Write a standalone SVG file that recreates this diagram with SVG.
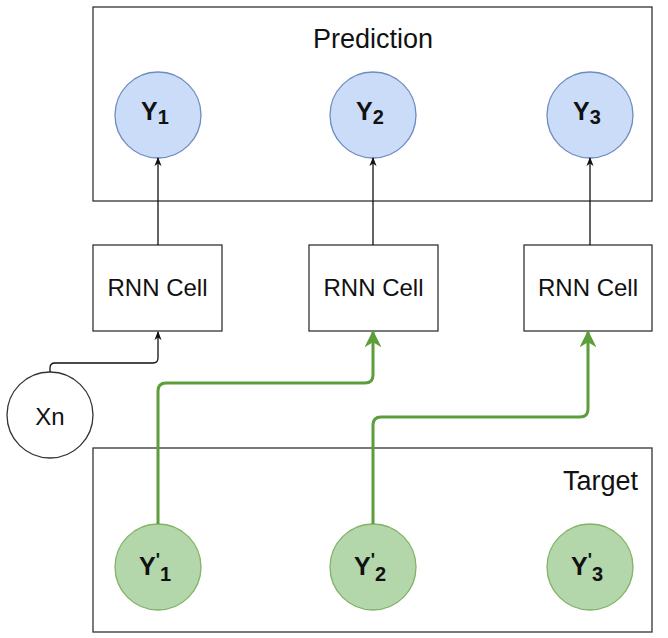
<svg xmlns="http://www.w3.org/2000/svg" width="668" height="638" viewBox="0 0 668 638">
<defs>
<style>
.box{fill:#fff;stroke:#333;stroke-width:1.3}
.pred{fill:#cbdcf8;stroke:#6c8ebf;stroke-width:1.3}
.tgt{fill:#b3d6ab;stroke:#82b366;stroke-width:1.3}
.t{font-family:"Liberation Sans",Arial,sans-serif;fill:#111;text-anchor:middle}
.lbl{font-size:27px}
.cell{font-size:24px}
.y{font-size:25px;font-weight:bold}
.blk{fill:none;stroke:#111;stroke-width:1.3}
.grn{fill:none;stroke:#5c9e3a;stroke-width:3}
</style>
<marker id="ab" viewBox="0 0 10 10" refX="9" refY="5" markerWidth="9" markerHeight="9" markerUnits="userSpaceOnUse" orient="auto"><path d="M0,1 L10,5 L0,9 L3,5 Z" fill="#111"/></marker>
<marker id="ag" viewBox="0 0 10 10" refX="9" refY="5" markerWidth="17" markerHeight="17" markerUnits="userSpaceOnUse" orient="auto"><path d="M0,0 L10,5 L0,10 L3,5 Z" fill="#5c9e3a"/></marker>
</defs>

<g id="prediction">
<rect class="box" x="93" y="7" width="559" height="194"/>
<text class="t lbl" x="373" y="48">Prediction</text>
</g>
<g id="target">
<rect class="box" x="93" y="448" width="559" height="184"/>
<text class="t lbl" x="638" y="490" style="text-anchor:end">Target</text>
</g>

<g id="y1"><circle class="pred" cx="158" cy="115" r="43"/><text class="t y" x="155" y="120">Y<tspan font-size="20" dy="4">1</tspan></text></g>
<g id="y2"><circle class="pred" cx="373" cy="115" r="43"/><text class="t y" x="370" y="120">Y<tspan font-size="20" dy="4">2</tspan></text></g>
<g id="y3"><circle class="pred" cx="590" cy="115" r="43"/><text class="t y" x="587" y="120">Y<tspan font-size="20" dy="4">3</tspan></text></g>

<g id="cell1"><rect class="box" x="93" y="245" width="129" height="86"/><text class="t cell" x="157.5" y="296">RNN Cell</text></g>
<g id="cell2"><rect class="box" x="309" y="245" width="129" height="86"/><text class="t cell" x="373.5" y="296">RNN Cell</text></g>
<g id="cell3"><rect class="box" x="524" y="245" width="128" height="86"/><text class="t cell" x="588" y="296">RNN Cell</text></g>

<g id="xn"><circle cx="50" cy="415" r="43" fill="#fff" stroke="#333" stroke-width="1.3"/><text class="t" x="50" y="425" font-size="24">Xn</text></g>

<g id="yp1"><circle class="tgt" cx="158" cy="567" r="43"/><text class="t y" x="155" y="575">Y<tspan font-size="18" dy="-9">'</tspan><tspan font-size="20" dy="15">1</tspan></text></g>
<g id="yp2"><circle class="tgt" cx="373" cy="567" r="43"/><text class="t y" x="370" y="575">Y<tspan font-size="18" dy="-9">'</tspan><tspan font-size="20" dy="15">2</tspan></text></g>
<g id="yp3"><circle class="tgt" cx="590" cy="567" r="43"/><text class="t y" x="587" y="575">Y<tspan font-size="18" dy="-9">'</tspan><tspan font-size="20" dy="15">3</tspan></text></g>

<g id="connectors">
<line class="blk" x1="158" y1="245" x2="158" y2="158" marker-end="url(#ab)"/>
<line class="blk" x1="373" y1="245" x2="373" y2="158" marker-end="url(#ab)"/>
<line class="blk" x1="590" y1="245" x2="590" y2="158" marker-end="url(#ab)"/>
<path class="blk" d="M50,372 L50,368 Q50,363 55,363 L153,363 Q158,363 158,358 L158,332" marker-end="url(#ab)"/>
<path class="grn" d="M158,524 L158,391 Q158,383 166,383 L365,383 Q373,383 373,375 L373,332" marker-end="url(#ag)"/>
<path class="grn" d="M373,524 L373,425 Q373,417 381,417 L580,417 Q588,417 588,409 L588,332" marker-end="url(#ag)"/>
</g>
</svg>
